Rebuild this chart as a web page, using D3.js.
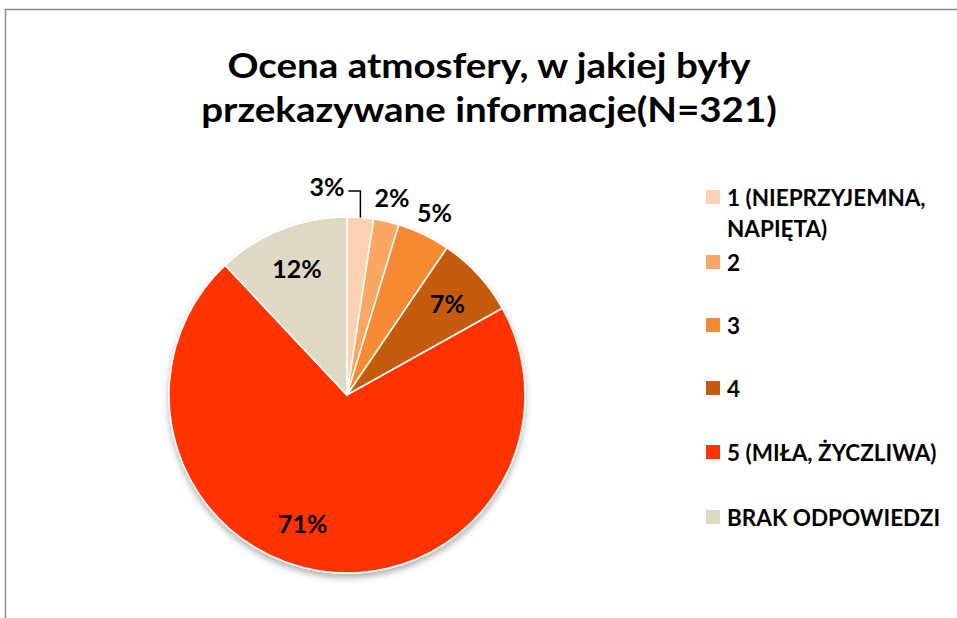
<!DOCTYPE html>
<html>
<head>
<meta charset="utf-8">
<script src="https://cdn.jsdelivr.net/npm/d3@7"></script>
<style>
  body { margin: 0; background: #fff; }
  svg { display: block; }
  text { font-family: Lato, "Open Sans", sans-serif; fill: #000; }
</style>
</head>
<body>
<div id="canvas"></div>
<script>
// data
var titleLines = ["Ocena atmosfery, w jakiej były", "przekazywane informacje(N=321)"];
var categories = ["1 (NIEPRZYJEMNA, NAPIĘTA)", "2", "3", "4", "5 (MIŁA, ŻYCZLIWA)", "BRAK ODPOWIEDZI"];
var legendLines = [["1 (NIEPRZYJEMNA,", "NAPIĘTA)"], ["2"], ["3"], ["4"], ["5 (MIŁA, ŻYCZLIWA)"], ["BRAK ODPOWIEDZI"]];
var shares = [2.4, 2.3, 4.8, 7.4, 71.1, 12.0];
var labels = ["3%", "2%", "5%", "7%", "71%", "12%"];
var colors = ["#fbd3b3", "#f9a764", "#f58a32", "#c55b11", "#ff3300", "#ddd9c3"];

var width = 957, height = 618;
var cx = 347, cy = 395, radius = 178;

var svg = d3.select("#canvas").append("svg")
  .attr("width", width)
  .attr("height", height);

// drop shadow for the pie
var defs = svg.append("defs");
var f = defs.append("filter").attr("id", "shadow")
  .attr("x", "-10%").attr("y", "-10%").attr("width", "120%").attr("height", "125%");
f.append("feDropShadow")
  .attr("dx", 0).attr("dy", 4).attr("stdDeviation", 3)
  .attr("flood-color", "#000").attr("flood-opacity", 0.3);

// chart frame (only top and left edges show)
svg.append("path")
  .attr("d", "M5.5," + height + "V9.5H" + width)
  .attr("fill", "none")
  .attr("stroke", "#8c8c8c")
  .attr("stroke-width", 1.5);

// title (source font is wider, so stretch a little)
svg.append("g")
  .attr("transform", "translate(489,0) scale(1.1,1)")
  .selectAll("text")
  .data(titleLines)
  .enter().append("text")
  .attr("x", 0)
  .attr("y", function (d, i) { return 78 + i * 44; })
  .attr("text-anchor", "middle")
  .attr("font-size", 35)
  .attr("font-weight", "bold")
  .text(function (d) { return d; });

var pie = d3.pie().sort(null).value(function (d) { return d; });
var arcsData = pie(shares);

var arc = d3.arc().innerRadius(0).outerRadius(radius);
var labelArc = d3.arc().innerRadius(radius * 0.765).outerRadius(radius * 0.765);
var outerArc = d3.arc().innerRadius(radius + 25).outerRadius(radius + 25);

var g = svg.append("g").attr("transform", "translate(" + cx + "," + cy + ")");

g.append("g").attr("filter", "url(#shadow)")
  .selectAll("path")
  .data(arcsData)
  .enter().append("path")
  .attr("d", arc)
  .attr("fill", function (d, i) { return colors[i]; })
  .attr("stroke", "#fff")
  .attr("stroke-width", 1.5);

// labels: small slices go outside, first one gets a leader line
arcsData.forEach(function (d, i) {
  var pct = d.data;
  var t = g.append("text")
    .attr("font-size", 25)
    .attr("font-weight", "bold")
    .attr("dominant-baseline", "central")
    .text(labels[i]);
  if (pct >= 50) {
    // Excel nudged the big label off the bisector
    var m = (d.startAngle + d.endAngle) / 2 + 0.18, r = radius * 0.76;
    t.attr("x", Math.sin(m) * r).attr("y", -Math.cos(m) * r).attr("text-anchor", "middle");
  } else if (pct >= 6) {
    var c = labelArc.centroid(d);
    t.attr("x", c[0]).attr("y", c[1]).attr("text-anchor", "middle");
  } else if (i === 0) {
    var a = (d.startAngle + d.endAngle) / 2;
    var px = Math.sin(a) * radius, py = -Math.cos(a) * radius;
    var ly = -204;
    g.append("path")
      .attr("d", "M" + px + "," + py + "V" + ly + "H" + (px - 12))
      .attr("fill", "none")
      .attr("stroke", "#000")
      .attr("stroke-width", 1.5);
    t.attr("x", px - 16).attr("y", ly - 5).attr("text-anchor", "end");
  } else {
    var o = outerArc.centroid(d);
    t.attr("x", o[0]).attr("y", o[1]).attr("text-anchor", "middle");
  }
});

// legend
var legendY = [197, 262, 325, 388, 452, 517];
var legend = svg.append("g");
categories.forEach(function (c, i) {
  var row = legend.append("g").attr("transform", "translate(706," + legendY[i] + ")");
  row.append("rect")
    .attr("x", 0).attr("y", -7)
    .attr("width", 14).attr("height", 14)
    .attr("fill", colors[i]);
  legendLines[i].forEach(function (line, j) {
    row.append("text")
      .attr("x", 21)
      .attr("y", j * 31)
      .attr("dominant-baseline", "central")
      .attr("font-size", 22.5)
      .attr("font-weight", "bold")
      .text(line);
  });
});
</script>
</body>
</html>
